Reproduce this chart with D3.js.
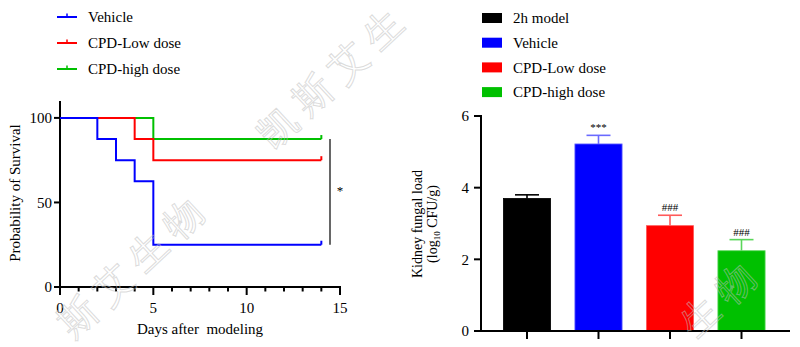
<!DOCTYPE html>
<html>
<head>
<meta charset="utf-8">
<script src="https://cdn.jsdelivr.net/npm/d3@7"></script>
<style>
  html, body { margin: 0; padding: 0; background: #fff; }
  svg { display: block; }
  text { font-family: "Liberation Serif", "Times New Roman", serif; }
</style>
</head>
<body>
<svg id="chart" width="800" height="347"></svg>
<script>
// ---- survival data (Kaplan-Meier steps) ----
const groups = ["Vehicle", "CPD-Low dose", "CPD-high dose"];
const groupColors = ["#0000ff", "#ff0000", "#00c000"];
const vehicleDays = [0, 2, 3, 4, 5, 14];
const vehicleSurvival = [100, 87.5, 75, 62.5, 25, 25];
const lowDoseDays = [0, 4, 5, 14];
const lowDoseSurvival = [100, 87.5, 75, 75];
const highDoseDays = [0, 5, 14];
const highDoseSurvival = [100, 87.5, 87.5];
const survivalTicksX = [0, 5, 10, 15];
const survivalTicksY = [0, 50, 100];

// ---- fungal load data ----
const barCategories = ["2h model", "Vehicle", "CPD-Low dose", "CPD-high dose"];
const barColors = ["#000000", "#0000ff", "#ff0000", "#00c000"];
const whiskerColors = ["#000000", "#6a6aff", "#ff5a5a", "#5ad65a"];
const barMeans = [3.70, 5.22, 2.94, 2.24];
const barErrors = [0.10, 0.24, 0.29, 0.31];
const barMarks = ["", "***", "###", "###"];
const loadTicksY = [0, 2, 4, 6];

// ---- watermark characters ----
const markChars = ["凯", "斯", "艾", "生", "物"];

const svg = d3.select("#chart");

// ================= Survival panel =================
const xS = d3.scaleLinear().domain([0, 15]).range([60, 340]);
const yS = d3.scaleLinear().domain([0, 110]).range([287, 101]);

const left = svg.append("g");

// y axis
left.append("line").attr("x1", 60).attr("x2", 60).attr("y1", yS(110)).attr("y2", yS(0) + 1)
  .attr("stroke", "#000").attr("stroke-width", 2);
survivalTicksY.forEach(v => {
  left.append("line").attr("x1", 54).attr("x2", 60).attr("y1", yS(v)).attr("y2", yS(v))
    .attr("stroke", "#000").attr("stroke-width", 2);
  left.append("text").attr("x", 52).attr("y", yS(v)).attr("dy", "0.35em")
    .attr("text-anchor", "end").attr("font-size", 15).text(v);
});

// x axis with minor day ticks
left.append("line").attr("x1", 59).attr("x2", xS(15) + 1).attr("y1", yS(0)).attr("y2", yS(0))
  .attr("stroke", "#000").attr("stroke-width", 2);
d3.range(0, 16).forEach(d => {
  const major = survivalTicksX.includes(d);
  left.append("line").attr("x1", xS(d)).attr("x2", xS(d)).attr("y1", yS(0))
    .attr("y2", yS(0) + (major ? 8 : 4.5)).attr("stroke", "#000").attr("stroke-width", 2);
});
survivalTicksX.forEach(d => {
  left.append("text").attr("x", xS(d)).attr("y", 313).attr("text-anchor", "middle")
    .attr("font-size", 15).text(d);
});

left.append("text").attr("x", 200).attr("y", 334).attr("text-anchor", "middle")
  .attr("font-size", 15).attr("xml:space", "preserve").text("Days after  modeling");
left.append("text").attr("transform", "translate(20,193) rotate(-90)")
  .attr("text-anchor", "middle").attr("font-size", 15).text("Probability of Survival");

// survival curves
const stepLine = d3.line().x(p => xS(p[0])).y(p => yS(p[1])).curve(d3.curveStepAfter);
const curves = [
  d3.zip(vehicleDays, vehicleSurvival),
  d3.zip(lowDoseDays, lowDoseSurvival),
  d3.zip(highDoseDays, highDoseSurvival)
];
// draw high dose first so vehicle sits on top
[2, 1, 0].forEach(i => {
  const pts = curves[i];
  left.append("path").attr("d", stepLine(pts)).attr("fill", "none")
    .attr("stroke", groupColors[i]).attr("stroke-width", 2);
  const last = pts[pts.length - 1];
  left.append("line").attr("x1", xS(last[0])).attr("x2", xS(last[0]))
    .attr("y1", yS(last[1])).attr("y2", yS(last[1]) - 4)
    .attr("stroke", groupColors[i]).attr("stroke-width", 2);
});

// significance bracket
left.append("line").attr("x1", 330).attr("x2", 330).attr("y1", yS(87.5)).attr("y2", yS(25))
  .attr("stroke", "#000").attr("stroke-width", 1.2);
left.append("text").attr("x", 340).attr("y", 195).attr("text-anchor", "middle")
  .attr("font-size", 13).text("*");

// legend
groups.forEach((g, i) => {
  const y = 17 + i * 26;
  left.append("line").attr("x1", 57).attr("x2", 77).attr("y1", y).attr("y2", y)
    .attr("stroke", groupColors[i]).attr("stroke-width", 2);
  left.append("line").attr("x1", 67).attr("x2", 67).attr("y1", y).attr("y2", y - 3.5)
    .attr("stroke", groupColors[i]).attr("stroke-width", 1.5);
  left.append("text").attr("x", 88).attr("y", y).attr("dy", "0.35em")
    .attr("font-size", 15).text(g);
});

// ================= Fungal load panel =================
const xB = d3.scaleBand().domain(barCategories).range([491.25, 777.25])
  .paddingInner(0.34).paddingOuter(0.17);
const yB = d3.scaleLinear().domain([0, 6]).range([331, 116]);

const right = svg.append("g");

// bars with error whiskers
barCategories.forEach((c, i) => {
  right.append("rect").attr("x", xB(c)).attr("y", yB(barMeans[i]))
    .attr("width", xB.bandwidth()).attr("height", yB(0) - yB(barMeans[i]))
    .attr("fill", barColors[i]).attr("stroke", whiskerColors[i]).attr("stroke-width", 0.8);
  const cx = xB(c) + xB.bandwidth() / 2;
  const top = yB(barMeans[i] + barErrors[i]);
  right.append("line").attr("x1", cx).attr("x2", cx).attr("y1", yB(barMeans[i])).attr("y2", top)
    .attr("stroke", whiskerColors[i]).attr("stroke-width", 1.6);
  right.append("line").attr("x1", cx - 12).attr("x2", cx + 12).attr("y1", top).attr("y2", top)
    .attr("stroke", whiskerColors[i]).attr("stroke-width", 1.6);
  if (barMarks[i]) {
    right.append("text").attr("x", cx).attr("y", top - 4).attr("text-anchor", "middle")
      .attr("font-size", 11).text(barMarks[i]);
  }
});

// axes
right.append("line").attr("x1", 481).attr("x2", 481).attr("y1", yB(6) - 1).attr("y2", yB(0) + 1)
  .attr("stroke", "#000").attr("stroke-width", 2);
loadTicksY.forEach(v => {
  right.append("line").attr("x1", 474).attr("x2", 481).attr("y1", yB(v)).attr("y2", yB(v))
    .attr("stroke", "#000").attr("stroke-width", 2);
  right.append("text").attr("x", 469).attr("y", yB(v)).attr("dy", "0.35em")
    .attr("text-anchor", "end").attr("font-size", 15).text(v);
});
right.append("line").attr("x1", 480).attr("x2", 790).attr("y1", yB(0)).attr("y2", yB(0))
  .attr("stroke", "#000").attr("stroke-width", 2);
barCategories.forEach(c => {
  const cx = xB(c) + xB.bandwidth() / 2;
  right.append("line").attr("x1", cx).attr("x2", cx).attr("y1", yB(0)).attr("y2", yB(0) + 8)
    .attr("stroke", "#000").attr("stroke-width", 2);
});

// y title (two lines, subscript on log)
right.append("text").attr("transform", "translate(422,224) rotate(-90)")
  .attr("text-anchor", "middle").attr("font-size", 14).text("Kidney fungal load");
const t2 = right.append("text").attr("transform", "translate(437,224) rotate(-90)")
  .attr("text-anchor", "middle").attr("font-size", 14);
t2.append("tspan").text("(log");
t2.append("tspan").attr("font-size", 9).attr("dy", 3).text("10");
t2.append("tspan").attr("dy", -3).text(" CFU/g)");

// legend
barCategories.forEach((c, i) => {
  const y = 18 + i * 24.7;
  right.append("rect").attr("x", 482).attr("y", y - 5).attr("width", 20).attr("height", 10)
    .attr("fill", barColors[i]);
  right.append("text").attr("x", 513).attr("y", y).attr("dy", "0.35em")
    .attr("font-size", 15).text(c);
});

// ================= watermark (diagonal, one glyph per text) =================
// each run: anchor of its middle glyph, and which glyphs land inside the canvas
const markRuns = [
  { x: 348, y: 62, show: [0, 1, 2, 3] },
  { x: 113, y: 284, show: [1, 2, 3, 4] },
  { x: 665, y: 349, show: [3, 4] }
];
const ang = -43 * Math.PI / 180;
const stepPx = 48;
markRuns.forEach(run => {
  run.show.forEach(k => {
    const off = (k - 2) * stepPx;
    const gx = run.x + off * Math.cos(ang);
    const gy = run.y + off * Math.sin(ang);
    svg.append("text").attr("transform", `translate(${gx.toFixed(1)},${gy.toFixed(1)}) rotate(-43)`)
      .attr("text-anchor", "middle").attr("dy", "0.35em")
      .attr("font-family", "Noto Sans CJK SC").attr("font-size", 38)
      .attr("fill", "none").attr("stroke", "rgba(190,190,190,0.55)").attr("stroke-width", 1)
      .text(markChars[k]);
  });
});
</script>
</body>
</html>
